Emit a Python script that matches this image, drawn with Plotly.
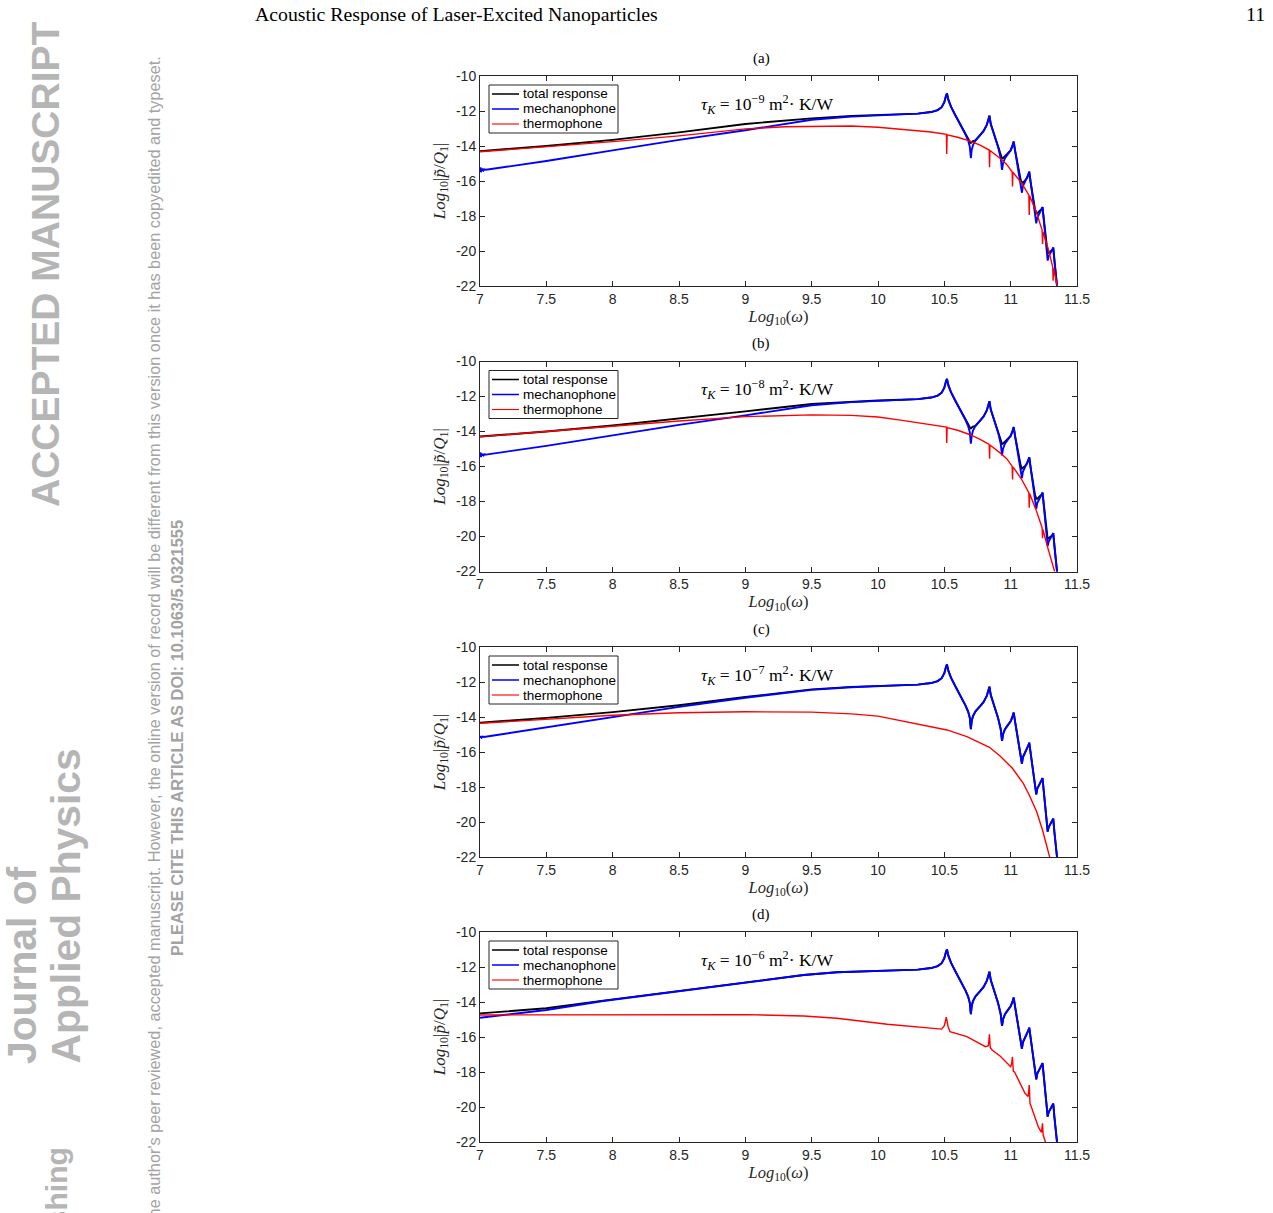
import plotly.graph_objects as go

W, H = 1273, 1213

# ---------------- data ----------------
X_TICKS = [7, 7.5, 8, 8.5, 9, 9.5, 10, 10.5, 11, 11.5]
X_TICK_LABELS = ["7", "7.5", "8", "8.5", "9", "9.5", "10", "10.5", "11", "11.5"]
Y_TICKS = [-22, -20, -18, -16, -14, -12, -10]
Y_TICK_LABELS = ["-22", "-20", "-18", "-16", "-14", "-12", "-10"]
SERIES_NAMES = ["total response", "mechanophone", "thermophone"]
PANEL_LABELS = ["(a)", "(b)", "(c)", "(d)"]
TAU_EXPONENTS = ["−9", "−8", "−7", "−6"]

# resonance region of the mechanophone response (shared by all panels)
MECH_HF_X = [10.17, 10.3, 10.4, 10.45, 10.48, 10.50, 10.512, 10.52, 10.53, 10.55,
             10.58, 10.63, 10.66, 10.68, 10.692, 10.70, 10.706, 10.716, 10.735, 10.765,
             10.795, 10.82, 10.833, 10.84, 10.85, 10.88, 10.905, 10.925, 10.935, 10.942,
             10.957, 10.98, 11.0, 11.015, 11.023, 11.033, 11.047, 11.062, 11.076, 11.085,
             11.092, 11.108, 11.125, 11.135, 11.14, 11.15, 11.168, 11.183, 11.193, 11.2,
             11.216, 11.232, 11.24, 11.25, 11.265, 11.279, 11.286, 11.30, 11.315, 11.321,
             11.33, 11.34, 11.352]
MECH_HF_Y = [-12.19, -12.15, -12.06, -11.95, -11.78, -11.5, -11.15, -10.99, -11.35, -11.75,
             -12.2, -12.9, -13.35, -13.7, -14.05, -14.7, -14.25, -13.95, -13.68, -13.42,
             -13.15, -12.8, -12.45, -12.27, -12.75, -13.47, -14.05, -14.7, -15.37, -15.0,
             -14.7, -14.45, -14.25, -13.95, -13.75, -14.25, -14.85, -15.5, -16.1, -16.67,
             -16.3, -16.04, -15.82, -15.6, -15.47, -16.05, -17.0, -17.85, -18.42, -18.1,
             -17.81, -17.62, -17.49, -18.25, -19.5, -20.55, -20.3, -20.1, -19.93, -19.81,
             -20.6, -21.4, -22.2]
# total response in the resonance region for panels (a), (b): shallower dips
TOTAL_AB_HF_Y = [-12.19, -12.15, -12.06, -11.95, -11.78, -11.5, -11.15, -10.99, -11.35, -11.75,
                 -12.2, -12.9, -13.35, -13.62, -13.76, -13.82, -13.78, -13.72, -13.68, -13.42,
                 -13.15, -12.8, -12.45, -12.27, -12.75, -13.47, -14.0, -14.45, -14.72, -14.7,
                 -14.58, -14.45, -14.25, -13.95, -13.75, -14.25, -14.85, -15.5, -15.95, -16.12,
                 -16.08, -15.98, -15.82, -15.6, -15.47, -16.05, -17.0, -17.6, -17.85, -17.85,
                 -17.72, -17.62, -17.49, -18.25, -19.4, -20.15, -20.1, -20.0, -19.93, -19.81,
                 -20.6, -21.4, -22.2]

# panel (a)  tau_K = 1e-9
A_TOTAL_LF_X = [7.0, 7.5, 8.0, 8.5, 9.0, 9.5, 9.8, 10.0]
A_TOTAL_LF_Y = [-14.29, -14.0, -13.65, -13.22, -12.74, -12.42, -12.28, -12.23]
A_MECH_LF_X = [7.0, 7.004, 7.008, 7.012, 7.016, 7.021, 7.027, 7.034, 7.045, 7.5, 8.0, 8.5, 9.0, 9.5, 9.8, 10.0]
A_MECH_LF_Y = [-15.45, -15.22, -15.5, -15.28, -15.42, -15.3, -15.4, -15.33, -15.36, -14.86, -14.25, -13.65, -13.1, -12.5, -12.32, -12.24]
A_THERMO_X = [7.0, 7.5, 8.0, 8.5, 9.0, 9.3, 9.6, 9.8, 10.0, 10.2, 10.4, 10.516, 10.518, 10.521, 10.6,
              10.69, 10.77, 10.838, 10.841, 10.844, 10.92, 10.97, 11.011, 11.014, 11.017, 11.08,
              11.137, 11.14, 11.143, 11.19, 11.237, 11.24, 11.243, 11.28, 11.317, 11.32, 11.323, 11.36]
A_THERMO_Y = [-14.33, -14.05, -13.75, -13.42, -13.02, -12.9, -12.85, -12.86, -12.93, -13.05, -13.2,
              -13.33, -14.46, -13.36, -13.5, -13.71, -13.95, -14.23, -15.22, -14.26, -14.7, -15.05,
              -15.47, -16.32, -15.5, -16.1, -16.8, -17.94, -16.85, -17.7, -18.8, -19.6, -18.9, -19.8,
              -20.9, -21.7, -21.0, -22.3]

# panel (b)  tau_K = 1e-8
B_TOTAL_LF_X = [7.0, 7.5, 8.0, 8.5, 9.0, 9.5, 9.8, 10.0]
B_TOTAL_LF_Y = [-14.29, -14.0, -13.66, -13.27, -12.85, -12.43, -12.29, -12.23]
B_MECH_LF_X = [7.0, 7.004, 7.008, 7.012, 7.016, 7.021, 7.027, 7.034, 7.045, 7.5, 8.0, 8.5, 9.0, 9.5, 9.8, 10.0]
B_MECH_LF_Y = [-15.42, -15.2, -15.46, -15.26, -15.38, -15.28, -15.36, -15.3, -15.32, -14.82, -14.22, -13.62, -13.08, -12.5, -12.32, -12.24]
B_THERMO_X = [7.0, 7.5, 8.0, 8.5, 9.0, 9.5, 9.8, 10.0, 10.17, 10.35, 10.516, 10.518, 10.521, 10.6,
              10.69, 10.77, 10.838, 10.841, 10.844, 10.92, 10.97, 11.011, 11.014, 11.017, 11.08,
              11.137, 11.14, 11.143, 11.19, 11.237, 11.24, 11.243, 11.28, 11.335]
B_THERMO_Y = [-14.3, -14.0, -13.7, -13.4, -13.15, -13.05, -13.08, -13.17, -13.35, -13.55, -13.75,
              -14.65, -13.78, -13.93, -14.17, -14.45, -14.74, -15.56, -14.77, -15.22, -15.55, -15.98,
              -16.74, -16.02, -16.7, -17.5, -18.36, -17.55, -18.45, -19.5, -20.1, -19.6, -20.65, -22.1]

# panel (c)  tau_K = 1e-7
C_TOTAL_LF_X = [7.0, 7.5, 8.0, 8.5, 9.0, 9.5, 9.8, 10.0]
C_TOTAL_LF_Y = [-14.33, -14.05, -13.72, -13.33, -12.86, -12.42, -12.28, -12.23]
C_MECH_LF_X = [7.0, 7.006, 7.012, 7.02, 7.03, 7.5, 8.0, 8.5, 9.0, 9.5, 9.8, 10.0]
C_MECH_LF_Y = [-15.2, -15.1, -15.18, -15.12, -15.14, -14.6, -14.0, -13.42, -12.9, -12.45, -12.3, -12.24]
C_THERMO_X = [7.0, 7.5, 8.0, 8.5, 9.0, 9.5, 9.8, 10.0, 10.17, 10.35, 10.52, 10.67, 10.84, 10.92,
              11.013, 11.095, 11.14, 11.196, 11.24, 11.29, 11.305]
C_THERMO_Y = [-14.36, -14.12, -13.9, -13.76, -13.7, -13.72, -13.82, -13.95, -14.21, -14.45, -14.74,
              -15.12, -15.73, -16.23, -16.93, -17.79, -18.46, -19.41, -20.46, -21.89, -22.3]

# panel (d)  tau_K = 1e-6
D_TOTAL_LF_X = [7.0, 7.5, 7.93, 8.5, 8.93, 9.44, 9.69, 10.0]
D_TOTAL_LF_Y = [-14.65, -14.36, -13.92, -13.38, -12.93, -12.46, -12.3, -12.22]
D_MECH_LF_X = [7.0, 7.5, 7.93, 8.5, 8.93, 9.44, 9.69, 10.0]
D_MECH_LF_Y = [-14.9, -14.46, -13.94, -13.38, -12.93, -12.46, -12.3, -12.22]
D_THERMO_X = [7.0, 8.0, 9.0, 9.44, 9.69, 10.07, 10.3, 10.44, 10.48, 10.5, 10.515, 10.528, 10.543,
              10.67, 10.81, 10.832, 10.84, 10.846, 10.86, 10.92, 11.0, 11.008, 11.013, 11.02, 11.03,
              11.108, 11.132, 11.14, 11.146, 11.156, 11.21, 11.232, 11.24, 11.245, 11.275]
D_THERMO_Y = [-14.74, -14.72, -14.72, -14.8, -14.93, -15.27, -15.45, -15.56, -15.55, -15.35, -14.87,
              -15.4, -15.7, -15.98, -16.55, -16.5, -15.85, -16.6, -16.74, -17.09, -17.7, -17.5, -17.13,
              -17.95, -18.01, -19.22, -19.4, -18.74, -19.8, -20.0, -21.17, -21.45, -20.93, -21.6, -22.3]

PANELS = [
    dict(total=(A_TOTAL_LF_X + MECH_HF_X, A_TOTAL_LF_Y + TOTAL_AB_HF_Y),
         mech=(A_MECH_LF_X + MECH_HF_X, A_MECH_LF_Y + MECH_HF_Y),
         thermo=(A_THERMO_X, A_THERMO_Y)),
    dict(total=(B_TOTAL_LF_X + MECH_HF_X, B_TOTAL_LF_Y + TOTAL_AB_HF_Y),
         mech=(B_MECH_LF_X + MECH_HF_X, B_MECH_LF_Y + MECH_HF_Y),
         thermo=(B_THERMO_X, B_THERMO_Y)),
    dict(total=(C_TOTAL_LF_X + MECH_HF_X, C_TOTAL_LF_Y + MECH_HF_Y),
         mech=(C_MECH_LF_X + MECH_HF_X, C_MECH_LF_Y + MECH_HF_Y),
         thermo=(C_THERMO_X, C_THERMO_Y)),
    dict(total=(D_TOTAL_LF_X + MECH_HF_X, D_TOTAL_LF_Y + MECH_HF_Y),
         mech=(D_MECH_LF_X + MECH_HF_X, D_MECH_LF_Y + MECH_HF_Y),
         thermo=(D_THERMO_X, D_THERMO_Y)),
]

# ---------------- layout helpers ----------------
def px(x):
    return x / W

def py(y):
    return (H - y) / H

PLOT_LEFT, PLOT_RIGHT = 480, 1077
PANEL_TOPS = [76, 361.5, 647, 932]
PANEL_H = 210

AXIS_COLOR = "#262626"
SANS = "Liberation Sans, Arial, sans-serif"
SERIF = "Liberation Serif, Times New Roman, serif"

fig = go.Figure()
layout = dict(width=W, height=H, margin=dict(l=0, r=0, t=0, b=0, autoexpand=False),
              paper_bgcolor="white", plot_bgcolor="white", showlegend=False)
annotations = []
shapes = []

styles = [("total", "#000000", 1.9), ("mech", "#0000ff", 1.9), ("thermo", "#ff0000", 1.4)]

for i, p in enumerate(PANELS):
    sfx = "" if i == 0 else str(i + 1)
    for (key, color, width), name in zip(styles, SERIES_NAMES):
        xs, ys = p[key]
        fig.add_trace(go.Scatter(x=xs, y=ys, mode="lines", name=name,
                                 line=dict(color=color, width=width),
                                 xaxis="x" + sfx, yaxis="y" + sfx,
                                 hoverinfo="skip"))
    top = PANEL_TOPS[i]
    bottom = top + PANEL_H
    layout["xaxis" + sfx] = dict(
        domain=[px(PLOT_LEFT), px(PLOT_RIGHT)], anchor="y" + sfx, automargin=False,
        range=[7, 11.5], tickvals=X_TICKS, ticktext=X_TICK_LABELS,
        ticks="inside", ticklen=5, tickcolor=AXIS_COLOR, showline=True,
        linecolor=AXIS_COLOR, linewidth=1, mirror="ticks", showgrid=False,
        zeroline=False, tickfont=dict(family=SANS, size=14, color=AXIS_COLOR),
        title=dict(text="<i>Log</i><sub>10</sub>(<i>ω</i>)", standoff=2,
                   font=dict(family=SERIF, size=16.5, color=AXIS_COLOR)),
        fixedrange=True)
    layout["yaxis" + sfx] = dict(
        domain=[py(bottom), py(top)], anchor="x" + sfx, automargin=False,
        range=[-22, -10], tickvals=Y_TICKS, ticktext=Y_TICK_LABELS,
        ticks="inside", ticklen=5, tickcolor=AXIS_COLOR, showline=True,
        linecolor=AXIS_COLOR, linewidth=1, mirror="ticks", showgrid=False,
        zeroline=False, tickfont=dict(family=SANS, size=14, color=AXIS_COLOR),
        title=dict(text="<i>Log</i><sub>10</sub>|<i>p̃</i>/<i>Q</i><sub>1</sub>|", standoff=6,
                   font=dict(family=SERIF, size=17, color=AXIS_COLOR)),
        fixedrange=True)

    # legend box (framed key, compact like the original)
    shapes.append(dict(type="rect", xref="paper", yref="paper",
                       x0=px(489), x1=px(618), y0=py(top + 57), y1=py(top + 9),
                       line=dict(color=AXIS_COLOR, width=1), fillcolor="white", layer="above"))
    for k, ((key, color, width), name) in enumerate(zip(styles, SERIES_NAMES)):
        ry = top + 18 + 15 * k
        shapes.append(dict(type="line", xref="paper", yref="paper",
                           x0=px(492), x1=px(519), y0=py(ry), y1=py(ry),
                           line=dict(color=color, width=width * 0.8), layer="above"))
        annotations.append(dict(text=name, x=px(521), y=py(ry), xanchor="left", yanchor="middle",
                                font=dict(family=SANS, size=13.5, color="#000000")))

    # panel label
    annotations.append(dict(text=PANEL_LABELS[i], x=px(761), y=py(top - 18),
                            xanchor="center", yanchor="middle",
                            font=dict(family=SERIF, size=15, color="#000000")))
    # tau annotation
    annotations.append(dict(
        text="<i>τ</i><sub><i>K</i></sub> = 10<sup>" + TAU_EXPONENTS[i] + "</sup> m<sup>2</sup>· K/W",
        x=px(767), y=py(top + 28), xanchor="center", yanchor="middle",
        font=dict(family=SERIF, size=17.5, color="#000000")))

# page header
annotations.append(dict(text="Acoustic Response of Laser-Excited Nanoparticles",
                        x=px(253), y=py(14), xanchor="left", yanchor="middle",
                        font=dict(family=SERIF, size=19.8, color="#000000")))
annotations.append(dict(text="11", x=px(1267), y=py(14), xanchor="right", yanchor="middle",
                        font=dict(family=SERIF, size=19.8, color="#000000")))

# watermark
WM_BIG = "#b5b5b5"
WM_SMALL = "#a3a3a3"
annotations += [
    dict(text="<b>ACCEPTED MANUSCRIPT</b>", x=px(45), y=py(264), textangle=-90,
         xanchor="center", yanchor="middle",
         font=dict(family=SANS, size=39, color=WM_BIG)),
    dict(text="<b>Journal of</b>", x=px(22), y=py(1066), textangle=-90,
         xanchor="center", yanchor="bottom",
         font=dict(family=SANS, size=40.8, color=WM_BIG)),
    dict(text="<b>Applied Physics</b>", x=px(65), y=py(1066), textangle=-90,
         xanchor="center", yanchor="bottom",
         font=dict(family=SANS, size=40.8, color=WM_BIG)),
    dict(text="<b>Publishing</b>", x=px(56), y=py(1146), textangle=-90,
         xanchor="center", yanchor="top",
         font=dict(family=SANS, size=30, color=WM_BIG)),
    dict(text="This is the author's peer reviewed, accepted manuscript. However, the online version of record will be different from this version once it has been copyedited and typeset.",
         x=px(153), y=py(55), textangle=-90, xanchor="center", yanchor="top",
         font=dict(family=SANS, size=16.3, color=WM_SMALL)),
    dict(text="<b>PLEASE CITE THIS ARTICLE AS DOI: 10.1063/5.0321555</b>",
         x=px(177), y=py(738), textangle=-90, xanchor="center", yanchor="middle",
         font=dict(family=SANS, size=16.4, color=WM_SMALL)),
]
for a in annotations:
    a.setdefault("xref", "paper")
    a.setdefault("yref", "paper")
    a.setdefault("showarrow", False)

layout["annotations"] = annotations
layout["shapes"] = shapes
fig.update_layout(**layout)
fig.write_html("out.html")
